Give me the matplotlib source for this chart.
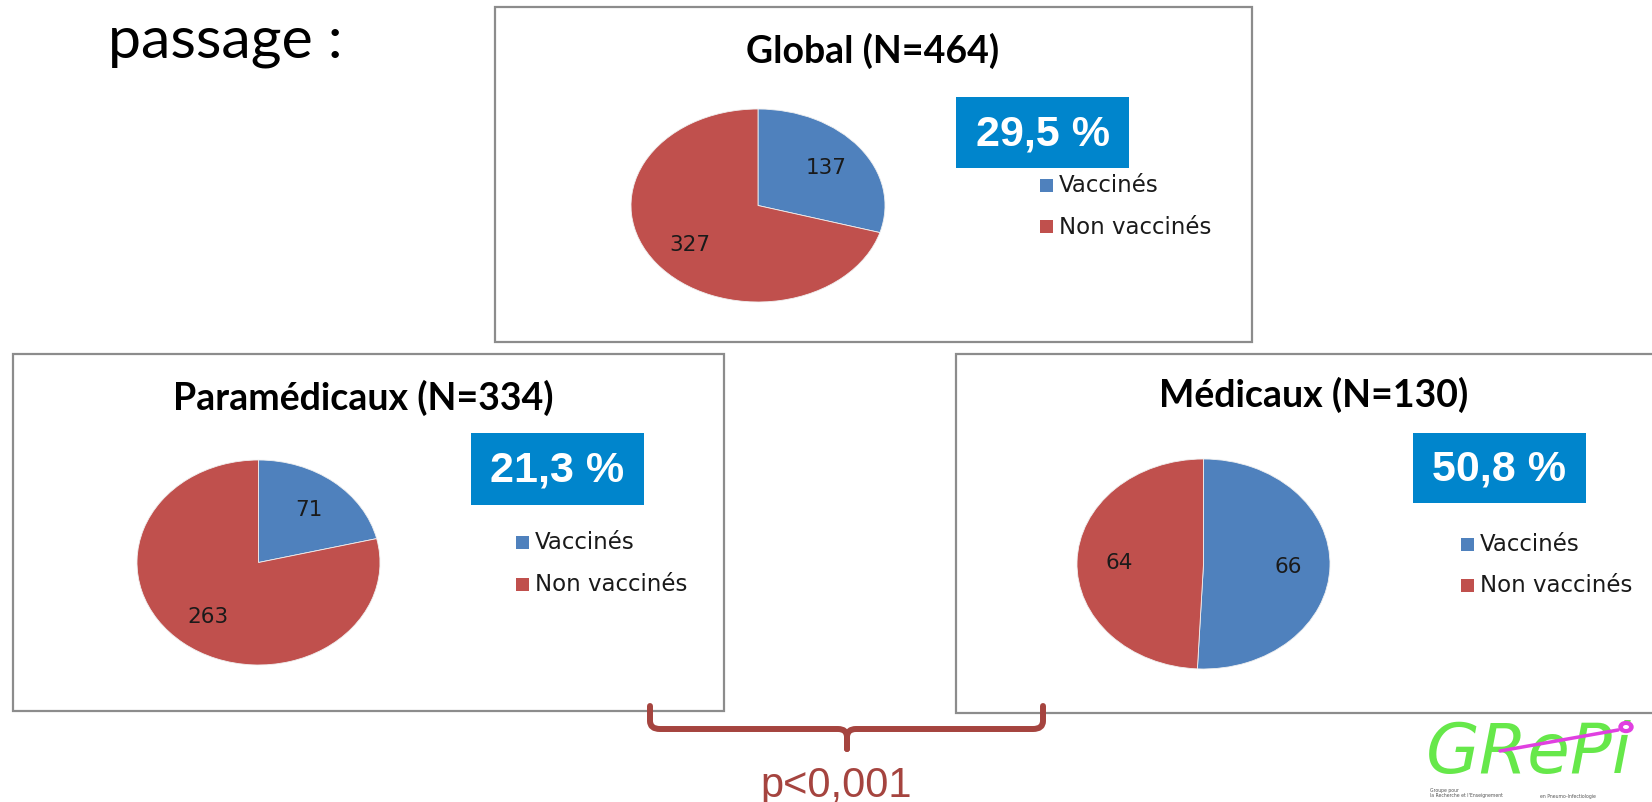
import matplotlib
matplotlib.use('Agg')
import matplotlib.pyplot as plt
from matplotlib.patches import Rectangle, Ellipse
from matplotlib.path import Path
from matplotlib.patches import PathPatch

W, H = 1652, 803

heading = "passage :"
categories = ["Vaccinés", "Non vaccinés"]
chart_titles = ["Global (N=464)", "Paramédicaux (N=334)", "Médicaux (N=130)"]
vaccinated = [137, 71, 66]
not_vaccinated = [327, 263, 64]
rates = ["29,5 %", "21,3 %", "50,8 %"]
p_value = "p<0,001"

slice_colors = ["#4F81BD", "#C0504D"]
rate_bg = "#0085CC"
bracket_color = "#A5443F"

layouts = [
    dict(box=(495, 8, 1252, 343), title=(873, 51), pie=(631, 110, 885, 303),
         rate=(956, 98, 1129, 169), leg=(1040, 186, 227)),
    dict(box=(13, 355, 724, 712), title=(363, 398), pie=(137, 461, 380, 666),
         rate=(471, 434, 644, 506), leg=(516, 543, 585)),
    dict(box=(956, 355, 1662, 714), title=(1314, 395), pie=(1077, 460, 1330, 670),
         rate=(1413, 434, 1586, 504), leg=(1461, 545, 586)),
]

fig = plt.figure(figsize=(W / 100, H / 100), dpi=100)
fig.patch.set_facecolor("white")
bg = fig.add_axes([0, 0, 1, 1])
bg.set_xlim(0, W)
bg.set_ylim(H, 0)
bg.axis("off")

bg.text(108, 58, heading, fontsize=42.5, family="Lato", color="black",
        ha="left", va="baseline")

for i, lay in enumerate(layouts):
    x0, y0, x1, y1 = lay["box"]
    bg.add_patch(Rectangle((x0, y0), x1 - x0, y1 - y0, facecolor="white",
                           edgecolor="#8C8C8C", linewidth=1.6, zorder=1))
    bg.text(lay["title"][0], lay["title"][1], chart_titles[i], fontsize=27,
            family="Lato", weight="bold", ha="center", va="center", zorder=3)

    # pie
    l, t, r, b = lay["pie"]
    ax = fig.add_axes([l / W, 1 - b / H, (r - l) / W, (b - t) / H])
    vals = [vaccinated[i], not_vaccinated[i]]
    total = sum(vals)
    wedges, _, autotexts = ax.pie(
        vals, colors=slice_colors, startangle=90, counterclock=False,
        autopct=lambda p, tot=total: f"{round(p * tot / 100)}",
        pctdistance=0.67,
        wedgeprops=dict(edgecolor="#F0F0F0", linewidth=0.6))
    for at in autotexts:
        at.set_fontsize(15.5)
        at.set_family("DejaVu Sans")
        at.set_color("#1a1a1a")
    ax.set_aspect("auto")
    ax.set_xlim(-1.0, 1.0)
    ax.set_ylim(-1.0, 1.0)
    ax.axis("off")

    # rate box
    rx0, ry0, rx1, ry1 = lay["rate"]
    bg.add_patch(Rectangle((rx0, ry0), rx1 - rx0, ry1 - ry0, facecolor=rate_bg,
                           edgecolor="none", zorder=3))
    bg.text((rx0 + rx1) / 2, (ry0 + ry1) / 2 + 1, rates[i], fontsize=31,
            family=["Liberation Sans Narrow", "Liberation Sans"], weight="bold",
            color="white", ha="center", va="center", zorder=4)

    # legend
    lx, ly1, ly2 = lay["leg"]
    for cat, col, yy in zip(categories, slice_colors, [ly1, ly2]):
        bg.add_patch(Rectangle((lx, yy - 6.5), 13, 13, facecolor=col,
                               edgecolor="none", zorder=3))
        bg.text(lx + 19, yy, cat, fontsize=16.5, family="DejaVu Sans",
                color="#1a1a1a", ha="left", va="center", zorder=3)

# bracket
lw = 4.3
verts_l = [(650, 707), (650, 722), (650, 730), (660, 730), (838, 730),
           (847, 730), (847, 738), (847, 750)]
codes = [Path.MOVETO, Path.LINETO, Path.CURVE3, Path.CURVE3, Path.LINETO,
         Path.CURVE3, Path.CURVE3, Path.LINETO]
verts_r = [(1043, 707), (1043, 722), (1043, 730), (1033, 730), (856, 730),
           (847, 730), (847, 738), (847, 750)]
for vv in (verts_l, verts_r):
    bg.add_patch(PathPatch(Path(vv, codes), facecolor="none",
                           edgecolor=bracket_color, linewidth=lw,
                           capstyle="round", joinstyle="round", zorder=5))
bg.text(836, 797, p_value, fontsize=30, family="Liberation Sans",
        color=bracket_color, ha="center", va="baseline", zorder=5)

# logo (approximation)
bg.text(1426, 787, "GRePi", fontsize=50, family="DejaVu Sans", style="italic",
        color="#66E84A", ha="left", va="bottom", zorder=5)
bg.plot([1500, 1618], [752, 731], color="#E040E0", lw=2.5, solid_capstyle="round", zorder=6)
bg.add_patch(Ellipse((1626, 728), 14, 11, facecolor="#E040E0", edgecolor="#E040E0", zorder=6))
bg.add_patch(Ellipse((1626, 728), 6, 4, facecolor="white", edgecolor="none", zorder=7))
bg.text(1430, 788, "Groupe pour\nla Recherche et l'Enseignement", fontsize=3.3,
        color="#555555", va="top", ha="left", linespacing=1.0)
bg.text(1540, 797, "en Pneumo-Infectiologie", fontsize=3.3, color="#555555",
        va="center", ha="left")

fig.savefig("out.png", dpi=100, facecolor="white")
